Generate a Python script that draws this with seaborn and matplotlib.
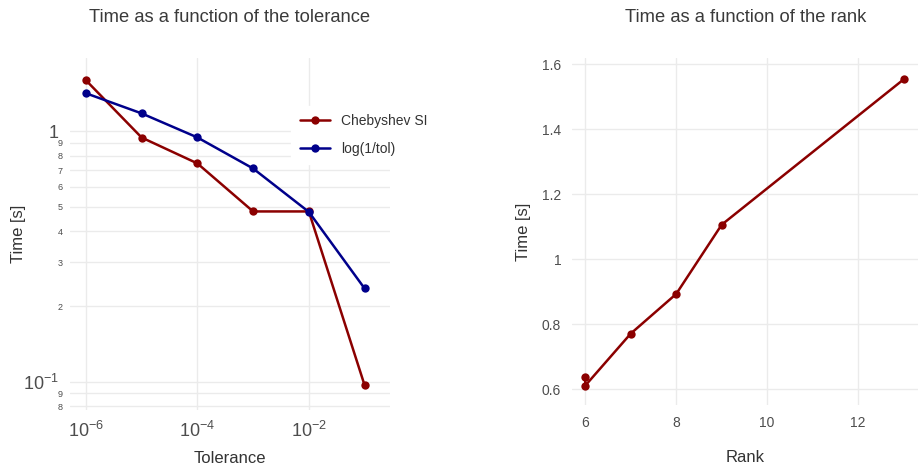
import matplotlib
matplotlib.use('Agg')
import numpy as np
import pandas as pd
import matplotlib.pyplot as plt
import matplotlib.ticker as mticker
import seaborn as sns

# 数据
tolerance = [1e-6, 1e-5, 1e-4, 1e-3, 1e-2, 1e-1]
time_cheb = [1.60, 0.945, 0.745, 0.479, 0.479, 0.097]
time_log = [1.42, 1.18, 0.946, 0.711, 0.477, 0.236]
series_names = ['Chebyshev SI', 'log(1/tol)']

rank = [6, 6, 7, 8, 9, 13]
time_rank = [0.638, 0.611, 0.771, 0.893, 1.106, 1.553]

colors = {'Chebyshev SI': '#8b0000', 'log(1/tol)': '#00008b'}

sns.set_theme(style='whitegrid')
plt.rcParams['font.family'] = ['Liberation Sans', 'DejaVu Sans']
plt.rcParams['mathtext.fontset'] = 'custom'
plt.rcParams['mathtext.rm'] = 'Liberation Sans'
plt.rcParams['mathtext.it'] = 'Liberation Sans:italic'
plt.rcParams['grid.color'] = '#ebebeb'
plt.rcParams['grid.linewidth'] = 1.0

df_tol = pd.DataFrame({
    'Tolerance': tolerance * 2,
    'Time': time_cheb + time_log,
    'Method': [series_names[0]] * len(tolerance) + [series_names[1]] * len(tolerance),
})
df_rank = pd.DataFrame({'Rank': rank, 'Time': time_rank})

fig = plt.figure(figsize=(9.2, 4.7), dpi=100)
ax1 = fig.add_axes([0.076, 0.128, 0.348, 0.748])
ax2 = fig.add_axes([0.622, 0.138, 0.376, 0.738])

# 左图：容差
sns.lineplot(data=df_tol, x='Tolerance', y='Time', hue='Method', palette=colors,
             marker='o', markersize=6, markeredgewidth=0, linewidth=1.8,
             estimator=None, sort=False, ax=ax1)
ax1.set_xscale('log')
ax1.set_yscale('log')
ax1.set_xlim(10 ** -6.287, 10 ** -0.542)
ax1.set_ylim(10 ** -1.112, 10 ** 0.292)

ax1.xaxis.set_major_locator(mticker.FixedLocator([1e-6, 1e-4, 1e-2]))
ax1.xaxis.set_major_formatter(mticker.FixedFormatter([r'$10^{-6}$', r'$10^{-4}$', r'$10^{-2}$']))
ax1.xaxis.set_minor_locator(mticker.NullLocator())

ax1.yaxis.set_major_locator(mticker.FixedLocator([0.1, 1]))
ax1.yaxis.set_major_formatter(mticker.FixedFormatter([r'$10^{-1}$', '1']))
minor_y = [0.08, 0.09, 0.2, 0.3, 0.4, 0.5, 0.6, 0.7, 0.8, 0.9]
ax1.yaxis.set_minor_locator(mticker.FixedLocator(minor_y))
ax1.yaxis.set_minor_formatter(mticker.FixedFormatter(['8', '9', '2', '3', '4', '5', '6', '7', '8', '9']))
ax1.tick_params(axis='x', which='major', labelsize=13, colors='#4d4d4d', length=0, pad=8)
ax1.tick_params(axis='y', which='major', labelsize=13, colors='#4d4d4d', length=0, pad=8)
ax1.tick_params(axis='y', which='minor', labelsize=6.5, colors='#4d4d4d', length=0, pad=5)
ax1.grid(True, which='major', axis='both')
ax1.grid(True, which='minor', axis='y')

ax1.set_title('Time as a function of the tolerance', fontsize=13.2, color='#3a3a3a', pad=26)
ax1.set_xlabel('Tolerance', fontsize=12, color='#333333', labelpad=7)
ax1.set_ylabel('Time [s]', fontsize=12, color='#333333')
ax1.yaxis.set_label_coords(-0.138, 0.5)

leg = ax1.legend(loc='upper left', bbox_to_anchor=(0.67, 0.885), frameon=True,
                 facecolor='white', edgecolor='white', framealpha=1,
                 fontsize=10, labelspacing=1.0, handlelength=2.2, borderpad=0.6)
for t in leg.get_texts():
    t.set_color('#333333')

# 右图：秩
sns.lineplot(data=df_rank, x='Rank', y='Time', color='#8b0000',
             marker='o', markersize=6, markeredgewidth=0, linewidth=1.8,
             estimator=None, sort=False, ax=ax2)
ax2.set_xlim(5.714, 13.32)
ax2.set_ylim(0.551, 1.618)
ax2.xaxis.set_major_locator(mticker.FixedLocator([6, 8, 10, 12]))
ax2.yaxis.set_major_locator(mticker.FixedLocator([0.6, 0.8, 1.0, 1.2, 1.4, 1.6]))
ax2.yaxis.set_major_formatter(mticker.FixedFormatter(['0.6', '0.8', '1', '1.2', '1.4', '1.6']))
ax2.tick_params(axis='both', labelsize=10, colors='#4d4d4d', length=0, pad=8)
ax2.grid(True, which='major')
ax2.set_title('Time as a function of the rank', fontsize=13.2, color='#3a3a3a', pad=26)
ax2.set_xlabel('Rank', fontsize=12, color='#333333', labelpad=14)
ax2.set_ylabel('Time [s]', fontsize=12, color='#333333', labelpad=8)

for ax in (ax1, ax2):
    for s in ax.spines.values():
        s.set_visible(False)

fig.savefig('out.png', dpi=100)
